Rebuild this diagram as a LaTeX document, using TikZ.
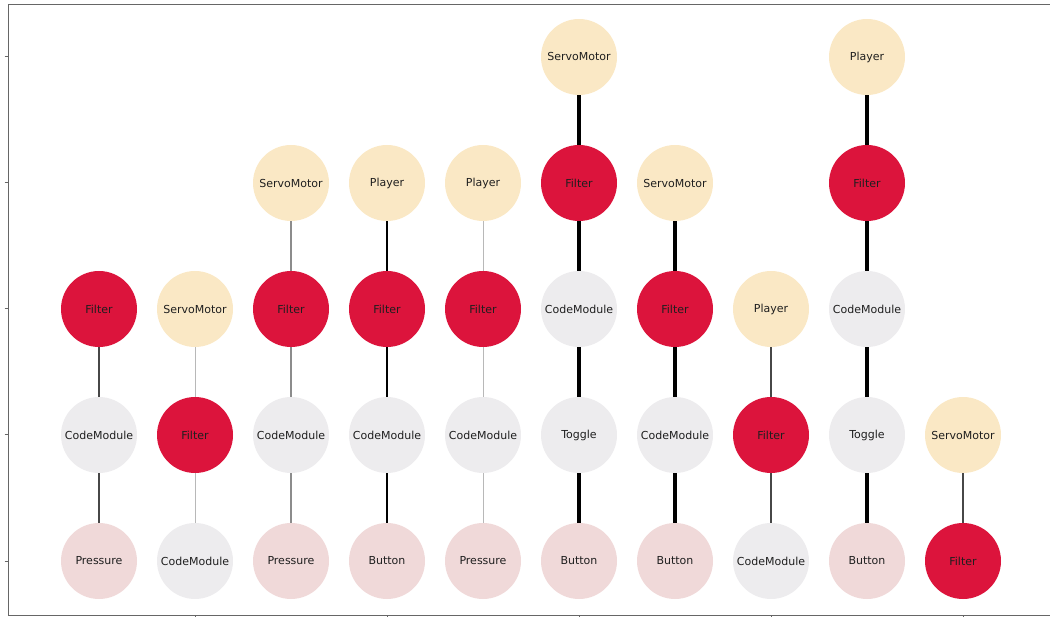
\documentclass[tikz,border=0pt]{standalone}
\usepackage{fontspec}
\setmainfont{DejaVu Sans}
\definecolor{filterred}{HTML}{DC143C}
\definecolor{wheatc}{HTML}{FAE8C5}
\definecolor{codegray}{HTML}{EDECEE}
\definecolor{inpink}{HTML}{F0D9D9}
\begin{document}
\begin{tikzpicture}[x=1pt,y=-1pt,
  ball/.style={circle,minimum size=76pt,inner sep=0pt,
    font=\fontsize{11}{13}\selectfont,text=black!88},
  filt/.style={ball,fill=filterred},
  dev/.style={ball,fill=wheatc},
  code/.style={ball,fill=codegray},
  inp/.style={ball,fill=inpink},
  axisline/.style={draw=black!60,line width=1pt},
  wthin/.style={draw=black!28,line width=1pt},
  wmid/.style={draw=black!45,line width=1.5pt},
  wdark/.style={draw=black!72,line width=2pt},
  wbold/.style={draw=black,line width=2.6pt},
  wstrong/.style={draw=black,line width=3.2pt},
  wheavy/.style={draw=black,line width=4pt}]
\useasboundingbox (0,0) rectangle (1050,617);

% axes frame and ticks
\draw[axisline] (1052,5) -- (8.5,5) -- (8.5,615.5) -- (1052,615.5);
\foreach \y in {57,183,309,435,561} \draw[axisline] (4.5,\y) -- (8.5,\y);
\foreach \x in {195,387,579,771,963} \draw[axisline] (\x,615.5) -- (\x,620);

% column 1
\node[inp]  (a1) at (99,561) {Pressure};
\node[code] (a2) at (99,435) {CodeModule};
\node[filt] (a3) at (99,309) {Filter};
% column 2
\node[code] (b1) at (195,561) {CodeModule};
\node[filt] (b2) at (195,435) {Filter};
\node[dev]  (b3) at (195,309) {ServoMotor};
% column 3
\node[inp]  (c1) at (291,561) {Pressure};
\node[code] (c2) at (291,435) {CodeModule};
\node[filt] (c3) at (291,309) {Filter};
\node[dev]  (c4) at (291,183) {ServoMotor};
% column 4
\node[inp]  (d1) at (387,561) {Button};
\node[code] (d2) at (387,435) {CodeModule};
\node[filt] (d3) at (387,309) {Filter};
\node[dev]  (d4) at (387,183) {Player};
% column 5
\node[inp]  (e1) at (483,561) {Pressure};
\node[code] (e2) at (483,435) {CodeModule};
\node[filt] (e3) at (483,309) {Filter};
\node[dev]  (e4) at (483,183) {Player};
% column 6
\node[inp]  (f1) at (579,561) {Button};
\node[code] (f2) at (579,435) {Toggle};
\node[code] (f3) at (579,309) {CodeModule};
\node[filt] (f4) at (579,183) {Filter};
\node[dev]  (f5) at (579,57)  {ServoMotor};
% column 7
\node[inp]  (g1) at (675,561) {Button};
\node[code] (g2) at (675,435) {CodeModule};
\node[filt] (g3) at (675,309) {Filter};
\node[dev]  (g4) at (675,183) {ServoMotor};
% column 8
\node[code] (h1) at (771,561) {CodeModule};
\node[filt] (h2) at (771,435) {Filter};
\node[dev]  (h3) at (771,309) {Player};
% column 9
\node[inp]  (i1) at (867,561) {Button};
\node[code] (i2) at (867,435) {Toggle};
\node[code] (i3) at (867,309) {CodeModule};
\node[filt] (i4) at (867,183) {Filter};
\node[dev]  (i5) at (867,57)  {Player};
% column 10
\node[filt] (j1) at (963,561) {Filter};
\node[dev]  (j2) at (963,435) {ServoMotor};

% links
\draw[wdark]   (a1) -- (a2) (a2) -- (a3);
\draw[wthin]   (b1) -- (b2) (b2) -- (b3);
\draw[wmid]    (c1) -- (c2) (c2) -- (c3) (c3) -- (c4);
\draw[wbold]   (d1) -- (d2) (d2) -- (d3) (d3) -- (d4);
\draw[wthin]   (e1) -- (e2) (e2) -- (e3) (e3) -- (e4);
\draw[wheavy]  (f1) -- (f2) (f2) -- (f3) (f3) -- (f4) (f4) -- (f5);
\draw[wstrong] (g1) -- (g2) (g2) -- (g3) (g3) -- (g4);
\draw[wdark]   (h1) -- (h2) (h2) -- (h3);
\draw[wheavy]  (i1) -- (i2) (i2) -- (i3) (i3) -- (i4) (i4) -- (i5);
\draw[wdark]   (j1) -- (j2);
\end{tikzpicture}
\end{document}
